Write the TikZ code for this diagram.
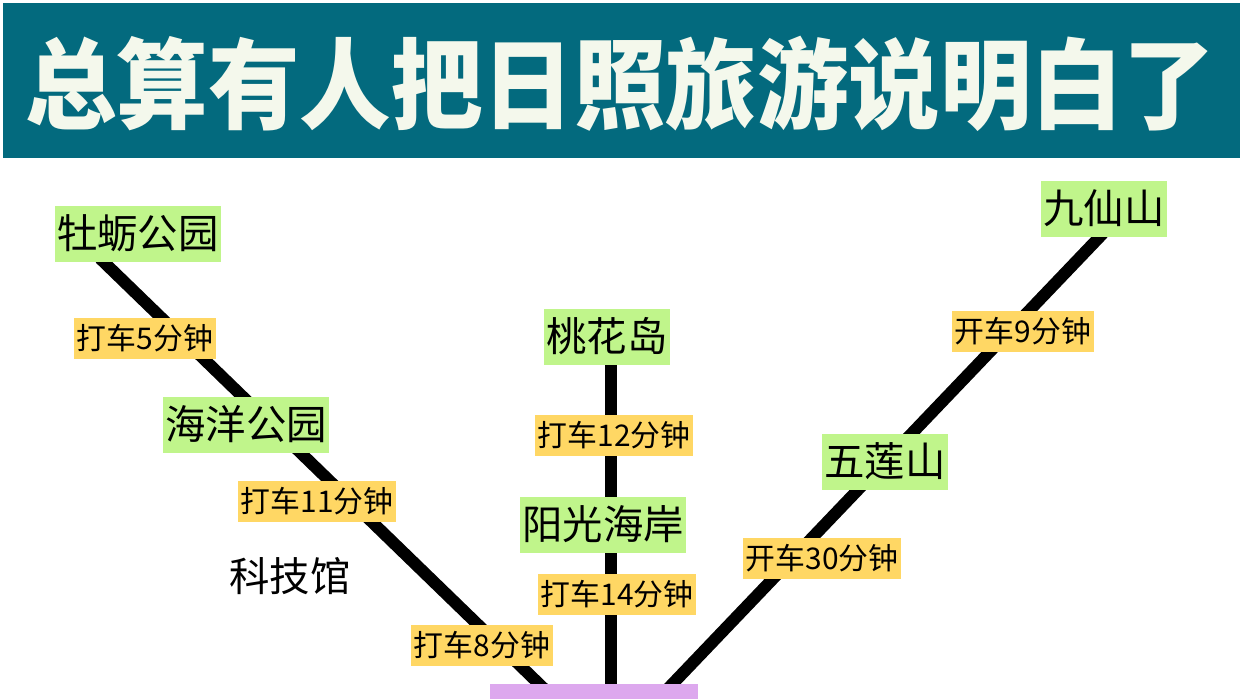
\documentclass[tikz,border=0pt]{standalone}
\usepackage{fontspec}
\setmainfont{Noto Sans CJK SC}
\newfontfamily\titlefont[FakeStretch=0.93]{Noto Sans CJK SC}
\usepackage{xcolor}
\usepackage{tikz}
\usetikzlibrary{backgrounds,calc}
\definecolor{bannerteal}{HTML}{036A7E}
\definecolor{titlewhite}{HTML}{F4F8EC}
\definecolor{spotgreen}{HTML}{C0F58B}
\definecolor{rideyellow}{HTML}{FFD764}
\definecolor{startpurple}{HTML}{DDA8EE}

\begin{document}
\begin{tikzpicture}[x=0.02cm, y=-0.02cm,
    spot/.style={fill=spotgreen, font=\fontsize{23}{26}\selectfont,
        text height=0.70cm, text depth=0.12cm, inner xsep=0.04cm, inner ysep=0.15cm},
    ride/.style={fill=rideyellow, font=\fontsize{17}{20}\selectfont,
        text height=0.52cm, text depth=0.08cm, inner xsep=0.05cm, inner ysep=0.11cm},
    road/.style={line width=0.24cm, black}]
    % ========== Rahmen ==========
    \path[use as bounding box, clip] (0,0) rectangle (1242,698);

    % ========== Titel ==========
    \fill[bannerteal] (3,3) rectangle (1240,158);
    \node[anchor=base, text=titlewhite, font=\titlefont\fontsize{56}{60}\selectfont\bfseries]
        (title) at (620,121) {总算有人把日照旅游说明白了};

    % ========== Orte ==========
    \node[spot] (muli) at (138,234) {牡蛎公园};
    \node[spot] (haiyang) at (246,425) {海洋公园};
    \node[spot] (taohua) at (607,337) {桃花岛};
    \node[spot] (yangguang) at (603,525) {阳光海岸};
    \node[spot] (jiuxian) at (1104,209) {九仙山};
    \node[spot] (wulian) at (885,462) {五莲山};
    \node[spot, fill=none] (keji) at (290,577) {科技馆};

    % Start unten (abgeschnitten)
    \node[fill=startpurple, inner sep=0, minimum width=4.16cm, minimum height=0.56cm]
        (start) at (594,698) {};

    % ========== Fahrzeiten ==========
    \node[ride] (t5) at (145,338) {打车5分钟};
    \node[ride] (t11) at (317,501) {打车11分钟};
    \node[ride] (t8) at (482,645) {打车8分钟};
    \node[ride] (t12) at (614,435) {打车12分钟};
    \node[ride] (t14) at (617,594) {打车14分钟};
    \node[ride] (c9) at (1023,331) {开车9分钟};
    \node[ride] (c30) at (822,558) {开车30分钟};

    % ========== Strecken (hinter den Knoten) ==========
    \begin{scope}[on background layer]
        \fill[white] (0,0) rectangle (1242,698);
        % links: Muli -> Haiyang -> Start
        \draw[road] ($(muli.south)+(-38,-4)$) -- ($(start.north)+(-49,6)$);
        % Mitte: Taohua -> Yangguang -> Start
        \draw[road] ($(taohua.south)+(4,-4)$) -- ($(start.north)+(17,6)$);
        % rechts: Jiuxian -> Wulian -> Start
        \draw[road] ($(jiuxian.south)+(-1,-4)$) -- ($(start.north)+(73,6)$);
    \end{scope}
\end{tikzpicture}
\end{document}
